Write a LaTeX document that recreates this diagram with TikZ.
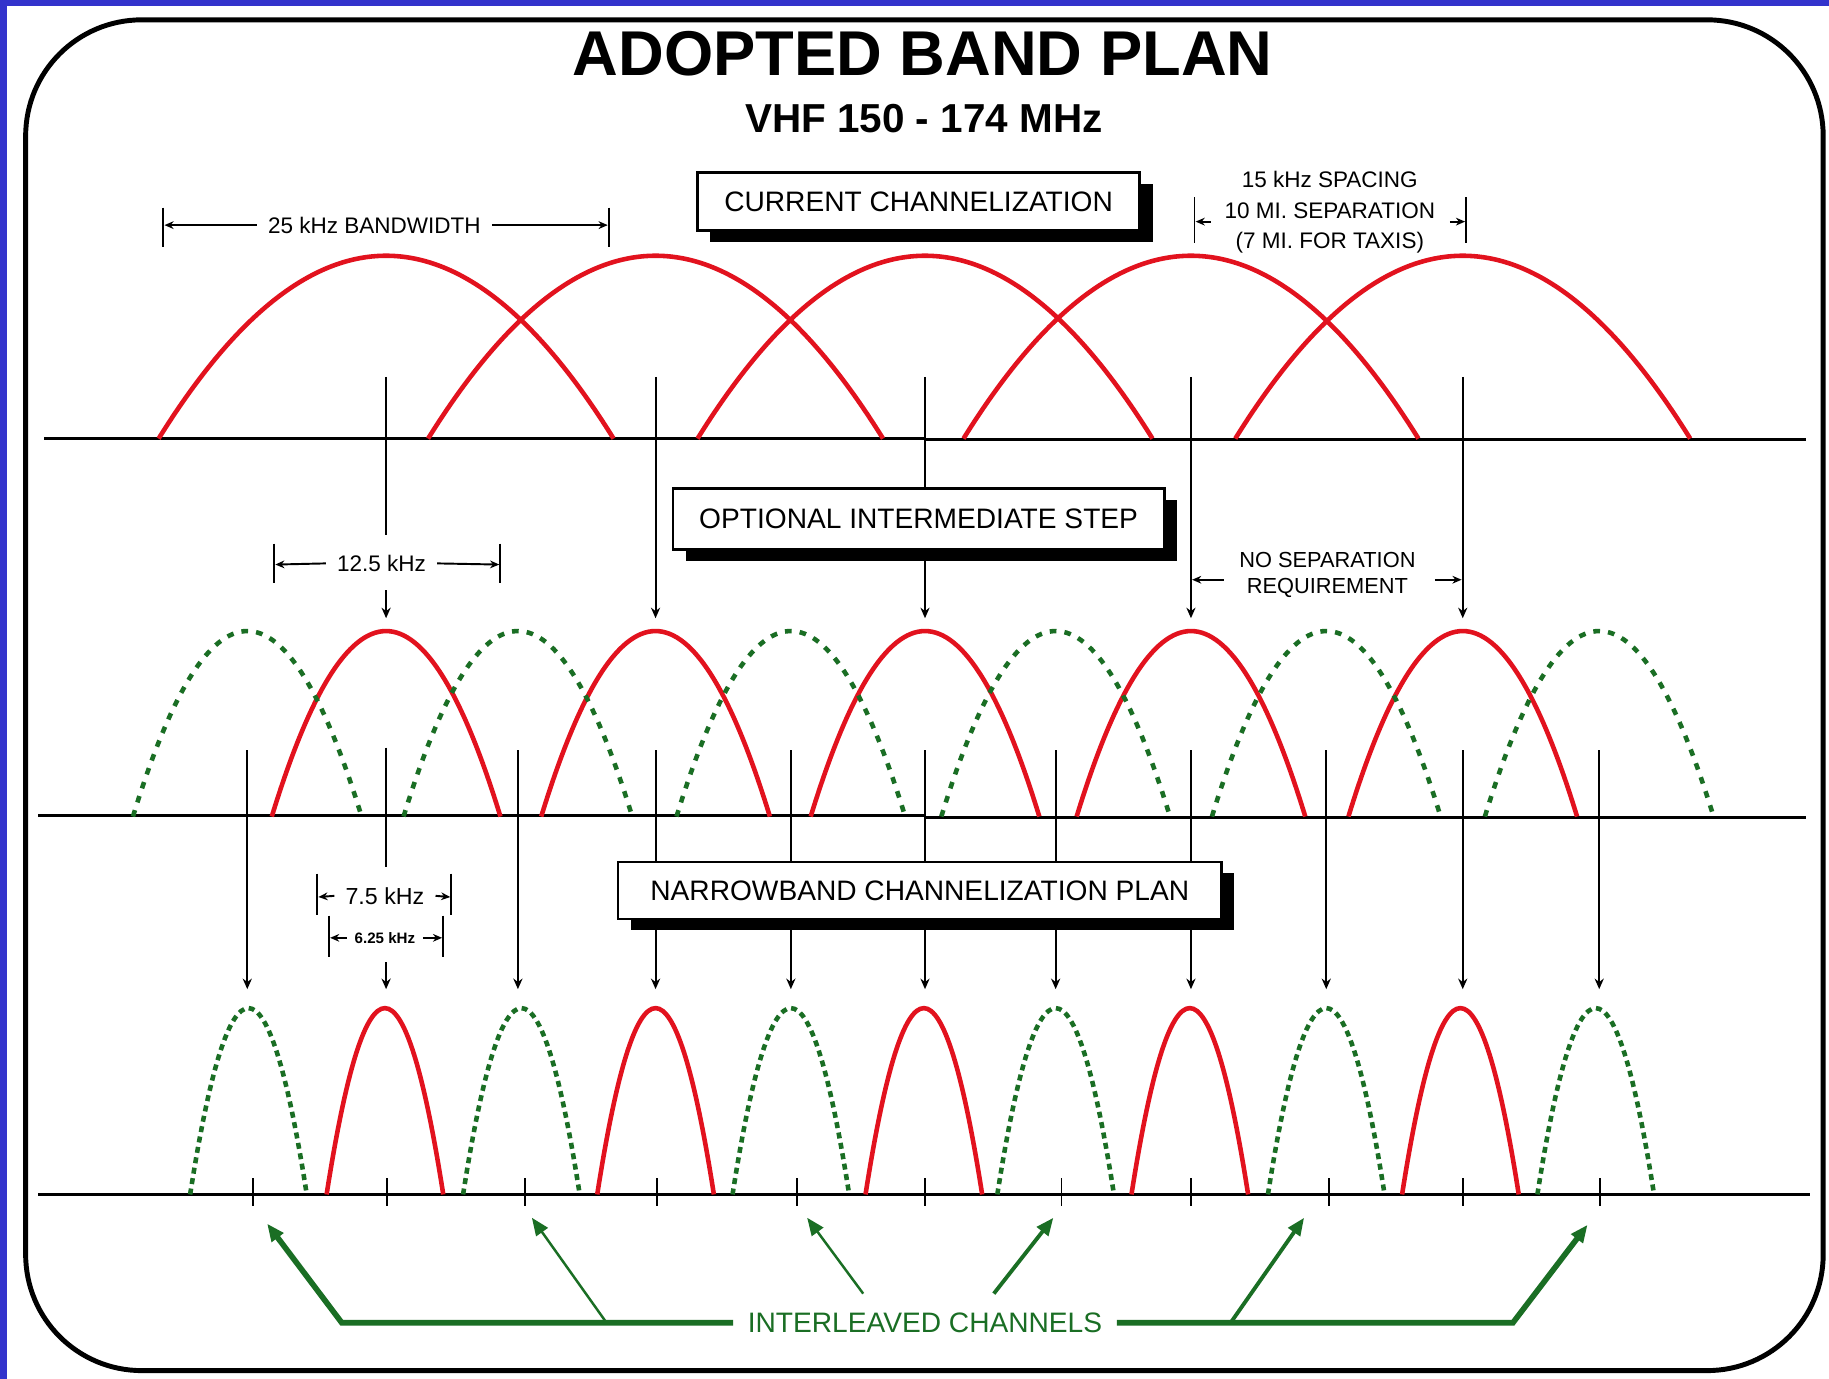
\documentclass[tikz,border=0pt]{standalone}
\usepackage{fontspec}
\setmainfont{Liberation Sans}
\usepackage{xcolor}
\usepackage{tikz}
\usetikzlibrary{arrows.meta, shadows}

\definecolor{bandred}{RGB}{226,18,30}
\definecolor{bandgreen}{RGB}{26,110,36}
\definecolor{edgeblue}{RGB}{51,51,204}

\begin{document}
\begin{tikzpicture}[x=0.011665cm, y=-0.011665cm,
    redarc/.style={draw=bandred, line width=1.3pt},
    greenarc/.style={draw=bandgreen, line width=1.3pt, dash pattern=on 1.9pt off 2.3pt},
    narrowgreen/.style={draw=bandgreen, line width=1.3pt, dash pattern=on 1.7pt off 1.3pt},
    axisline/.style={line width=0.85pt},
    dimline/.style={line width=0.55pt},
    pointer/.style={line width=0.6pt, -{Stealth[length=3pt,width=2.6pt]}},
    dimarrow/.style={line width=0.55pt, -{Stealth[length=2.6pt,width=2.2pt]}},
    dimtext/.style={font=\fontsize{6.4}{8.6}\selectfont, align=center, inner sep=3pt},
    stepbox/.style={draw, line width=0.75pt, fill=white, inner sep=0pt,
        font=\fontsize{8}{9.6}\selectfont,
        general shadow={fill=black, shadow xshift=0.128cm, shadow yshift=-0.11cm}},
    leafarrow/.style={draw=bandgreen, -{Triangle[length=5pt,width=4pt]}}]

    \useasboundingbox (0,0) rectangle (1568,1182);

    % Frame
    \fill[edgeblue] (0,0) rectangle (1568,1182);
    \fill[white] (6,5) rectangle (1568,1182);
    \draw[line width=1.4pt, rounded corners=33pt] (22,17) rectangle (1563,1175);

    % Titles
    \node (title) at (791,46) {\fontsize{18}{20}\selectfont\bfseries ADOPTED BAND PLAN};
    \node (subtitle) at (792,102) {\fontsize{11.5}{13}\selectfont\bfseries VHF 150 - 174 MHz};

    % Current channelization (25 kHz)
    \draw[axisline] (38,375.5) -- (793,375.5);
    \draw[axisline] (793,377) -- (1548,377);
    \foreach \c in {331,562,793,1021,1254}
        \draw[redarc] ({\c-195},376) .. controls ({\c-65},167) and ({\c+65},167) .. ({\c+195},376);

    % Pointers to the intermediate step
    \foreach \c in {562,793,1021,1254}
        \draw[pointer] (\c,323) -- (\c,530);
    \draw[dimline] (331,323) -- (331,459);
    \draw[pointer] (331,506) -- (331,530);

    % 25 kHz bandwidth
    \node (bandwidth) [dimtext] at (321,193) {25 kHz BANDWIDTH};
    \draw[dimline] (140,178) -- (140,212);
    \draw[dimline] (522,178) -- (522,212);
    \draw[dimarrow] (bandwidth.west) -- (141,193);
    \draw[dimarrow] (bandwidth.east) -- (521,193);

    % 15 kHz spacing
    \node (spacing) [dimtext] at (1140,182) {15 kHz SPACING\\10 MI. SEPARATION\\(7 MI. FOR TAXIS)};
    \draw[dimline] (1024,169) -- (1024,208);
    \draw[dimline] (1257,169) -- (1257,208);
    \draw[dimarrow] (1038,190) -- (1025,190);
    \draw[dimarrow] (1243,190) -- (1256,190);

    % Optional intermediate step (12.5 kHz)
    \draw[axisline] (33,699.5) -- (793,699.5);
    \draw[axisline] (793,701) -- (1548,701);
    \foreach \c in {331,562,793,1021,1254}
        \draw[redarc] ({\c-98},700) .. controls ({\c-33},488) and ({\c+33},488) .. ({\c+98},700);
    \foreach \c in {212,444,678,905,1137,1371}
        \draw[greenarc] ({\c-98},700) .. controls ({\c-33},488) and ({\c+33},488) .. ({\c+98},700);

    % Pointers to the narrowband plan
    \foreach \c in {212,444,562,678,793,905,1021,1137,1254,1371}
        \draw[pointer] (\c,643) -- (\c,848);
    \draw[dimline] (331,641) -- (331,743);
    \draw[pointer] (331,825) -- (331,848);

    % 12.5 kHz
    \node (halfband) [dimtext] at (327,483) {12.5 kHz};
    \draw[dimline] (235,466) -- (235,500);
    \draw[dimline] (429,466) -- (429,500);
    \draw[dimarrow] (halfband.west) -- (236,484);
    \draw[dimarrow] (halfband.east) -- (428,484);

    % No separation requirement
    \node (nosep) [dimtext, font=\fontsize{6.2}{7.4}\selectfont] at (1138,493) {NO SEPARATION\\REQUIREMENT};
    \draw[dimarrow] (1049,497) -- (1022,497);
    \draw[dimarrow] (1230,497) -- (1253,497);

    % 7.5 kHz and 6.25 kHz
    \node (narrowbw) [dimtext, font=\fontsize{6.6}{8}\selectfont] at (330,768) {7.5 kHz};
    \draw[dimline] (272,749) -- (272,784);
    \draw[dimline] (387,749) -- (387,784);
    \draw[dimarrow] (narrowbw.west) -- (273,769);
    \draw[dimarrow] (narrowbw.east) -- (386,769);
    \node (spacingbw) [font=\fontsize{4.3}{5}\selectfont\bfseries, inner sep=2pt] at (330,804) {6.25 kHz};
    \draw[dimline] (282,785) -- (282,820);
    \draw[dimline] (380,785) -- (380,820);
    \draw[dimarrow] (spacingbw.west) -- (283,804);
    \draw[dimarrow] (spacingbw.east) -- (379,804);

    % Narrowband channelization (6.25 kHz)
    \draw[axisline] (33,1024) -- (1552,1024);
    \foreach \t in {217,332,450,563,683,793,910,1021,1139,1254,1372}
        \draw[dimline] (\t,1010) -- (\t,1034);
    \foreach \c in {330,562,792,1020,1252}
        \draw[redarc] ({\c-50},1024) .. controls ({\c-16.7},811) and ({\c+16.7},811) .. ({\c+50},1024);
    \foreach \c in {213,447,678,905,1137,1368}
        \draw[narrowgreen] ({\c-50},1024) .. controls ({\c-16.7},811) and ({\c+16.7},811) .. ({\c+50},1024);

    % Step boxes
    \node (current) [stepbox, minimum width=4.42cm, minimum height=0.58cm] at (787.5,173) {CURRENT CHANNELIZATION};
    \node (optional) [stepbox, minimum width=4.91cm, minimum height=0.61cm] at (787.5,445) {OPTIONAL INTERMEDIATE STEP};
    \node (narrowband) [stepbox, minimum width=6.03cm, minimum height=0.57cm] at (788.5,763.5) {NARROWBAND CHANNELIZATION PLAN};

    % Interleaved channels
    \node (interleaved) [text=bandgreen, font=\fontsize{8}{9.6}\selectfont, inner sep=4pt] at (793,1134) {INTERLEAVED CHANNELS};
    \draw[leafarrow, line width=1.6pt] (interleaved.west) -- (293,1134) -- (229,1049);
    \draw[leafarrow, line width=0.7pt] (520,1134) -- (456,1044);
    \draw[leafarrow, line width=0.7pt] (740,1109) -- (692,1044);
    \draw[leafarrow, line width=1.1pt] (852,1109) -- (903,1044);
    \draw[leafarrow, line width=1.1pt] (1055,1134) -- (1118,1044);
    \draw[leafarrow, line width=1.6pt] (interleaved.east) -- (1297,1134) -- (1361,1050);
\end{tikzpicture}
\end{document}
